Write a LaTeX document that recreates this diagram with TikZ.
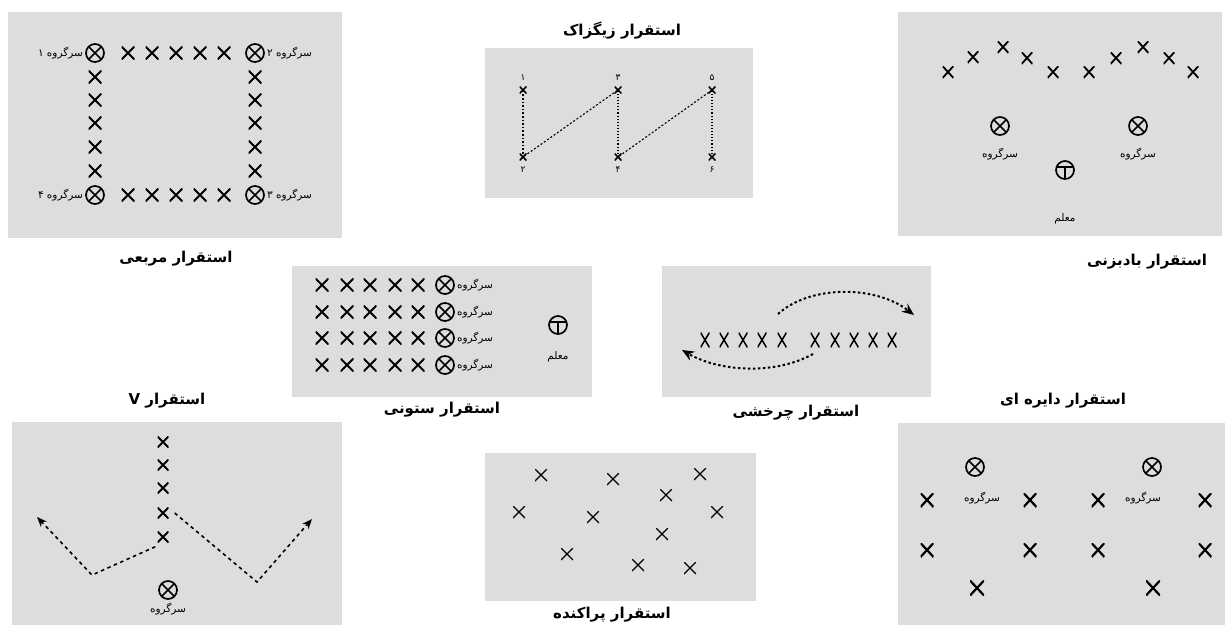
\documentclass[tikz,border=0pt]{standalone}
\usepackage{fontspec}
\setmainfont{DejaVu Sans}
\newfontfamily\farsifont[Script=Arabic]{DejaVu Sans}
\TeXXeTstate=1
\usepackage{tikz}
\usetikzlibrary{arrows.meta,positioning}
\definecolor{panelgray}{RGB}{221,221,221}
\newcommand{\fatext}[1]{\farsifont\beginR #1\endR}

\begin{document}
\begin{tikzpicture}[x=1pt, y=-1pt,
    panel/.style={fill=panelgray, draw=none},
    ttl/.style={font=\farsifont\bfseries\fontsize{15}{17}\selectfont, inner sep=0},
    lbl/.style={font=\farsifont\fontsize{10.5}{12}\selectfont, inner sep=1pt},
    num/.style={font=\farsifont\fontsize{9}{10}\selectfont, inner sep=1pt},
    xm/.style={inner sep=0, minimum width=13, minimum height=13,
      path picture={\draw[line width=1.8pt] (path picture bounding box.south west) -- (path picture bounding box.north east)
        (path picture bounding box.north west) -- (path picture bounding box.south east);}},
    xthin/.style={inner sep=0, minimum width=12, minimum height=12,
      path picture={\draw[line width=1.2pt] (path picture bounding box.south west) -- (path picture bounding box.north east)
        (path picture bounding box.north west) -- (path picture bounding box.south east);}},
    xnarrow/.style={inner sep=0, minimum width=9, minimum height=15,
      path picture={\draw[line width=1.5pt] (path picture bounding box.south west) -- (path picture bounding box.north east)
        (path picture bounding box.north west) -- (path picture bounding box.south east);}},
    xsmall/.style={inner sep=0, minimum width=7, minimum height=7,
      path picture={\draw[line width=1.6pt] (path picture bounding box.south west) -- (path picture bounding box.north east)
        (path picture bounding box.north west) -- (path picture bounding box.south east);}},
    xbold/.style={inner sep=0, minimum width=13, minimum height=14,
      path picture={\draw[line width=2.2pt] (path picture bounding box.south west) -- (path picture bounding box.north east)
        (path picture bounding box.north west) -- (path picture bounding box.south east);}},
    lead/.style={circle, draw, line width=1.7pt, minimum size=18, inner sep=0,
      path picture={\draw[line width=1.7pt] (path picture bounding box.south west) -- (path picture bounding box.north east)
        (path picture bounding box.north west) -- (path picture bounding box.south east);}},
    teach/.style={circle, draw, line width=1.7pt, minimum size=18, inner sep=0,
      path picture={\draw[line width=1.5pt] ([yshift=3pt]path picture bounding box.west) -- ([yshift=3pt]path picture bounding box.east)
        ([yshift=3pt]path picture bounding box.center) -- (path picture bounding box.south);}},
    zdot/.style={dotted, line width=1.1pt, shorten <=-3pt, shorten >=-3pt},
    zdash/.style={dash pattern=on 2pt off 2pt, line width=1.1pt, shorten <=-3pt, shorten >=-3pt},
    turn/.style={dash pattern=on 2.5pt off 2.5pt, line width=2pt, -{Stealth[length=12pt, width=10pt]}},
    varrow/.style={dash pattern=on 3.5pt off 3.5pt, line width=1.6pt, -{Stealth[length=10pt, width=8pt]}}
]
  \fill[white] (0,0) rectangle (1225,625);
  \useasboundingbox (0,0) rectangle (1225,625);

  % square
  \fill[panel] (8,12) rectangle (342,238);
  \node[lead] (sq1) at (95,53) {};
  \node[lead] (sq2) at (255,53) {};
  \node[lead] (sq3) at (255,195) {};
  \node[lead] (sq4) at (95,195) {};
  \foreach \x [count=\i] in {128,152,176,200,224} {
    \node[xm] (sqt\i) at (\x,53) {};
    \node[xm] (sqb\i) at (\x,195) {};
  }
  \foreach \y [count=\i] in {77,100,123,147,171} {
    \node[xm] (sql\i) at (95,\y) {};
    \node[xm] (sqr\i) at (255,\y) {};
  }
  \node[lbl, left=1pt of sq1] (sq1-l) {\fatext{سرگروه ۱}};
  \node[lbl, right=1pt of sq2] (sq2-l) {\fatext{سرگروه ۲}};
  \node[lbl, right=1pt of sq3] (sq3-l) {\fatext{سرگروه ۳}};
  \node[lbl, left=1pt of sq4] (sq4-l) {\fatext{سرگروه ۴}};
  \node[ttl] (t-square) at (176,259) {\fatext{استقرار مربعی}};

  % zigzag
  \fill[panel] (485,48) rectangle (753,198);
  \node[ttl] (t-zigzag) at (622,31) {\fatext{استقرار زیگزاک}};
  \node[xsmall] (z1) at (523,90) {};
  \node[xsmall] (z2) at (523,157) {};
  \node[xsmall] (z3) at (618,90) {};
  \node[xsmall] (z4) at (618,157) {};
  \node[xsmall] (z5) at (712,90) {};
  \node[xsmall] (z6) at (712,157) {};
  \node[num, above=5pt of z1] (z1-n) {۱};
  \node[num, below=5pt of z2] (z2-n) {۲};
  \node[num, above=5pt of z3] (z3-n) {۳};
  \node[num, below=5pt of z4] (z4-n) {۴};
  \node[num, above=5pt of z5] (z5-n) {۵};
  \node[num, below=5pt of z6] (z6-n) {۶};
  \draw[zdot, line width=1.6pt] (z1) -- (z2);
  \draw[zdash] (z2) -- (z3);
  \draw[zdot] (z3) -- (z4);
  \draw[zdash] (z4) -- (z5);
  \draw[zdot] (z5) -- (z6);

  % fan
  \fill[panel] (898,12) rectangle (1222,236);
  \foreach \x/\y [count=\i] in {948/72,973/57,1003/47,1027/58,1053/72,1089/72,1116/58,1143/47,1169/58,1193/72}
    \node[xm, minimum width=11, minimum height=12] (fx\i) at (\x,\y) {};
  \node[lead] (fl1) at (1000,126) {};
  \node[lead] (fl2) at (1138,126) {};
  \node[lbl, below=11pt of fl1] (fl1-l) {\fatext{سرگروه}};
  \node[lbl, below=11pt of fl2] (fl2-l) {\fatext{سرگروه}};
  \node[teach] (ft) at (1065,170) {};
  \node[lbl] (ft-l) at (1065,219) {\fatext{معلم}};
  \node[ttl] (t-fan) at (1147,262) {\fatext{استقرار بادبزنی}};

  % column
  \fill[panel] (292,266) rectangle (592,397);
  \foreach \y [count=\j] in {285,312,338,365} {
    \foreach \x [count=\i] in {322,347,370,395,418}
      \node[xm] (c\j-\i) at (\x,\y) {};
    \node[lead] (cl\j) at (445,\y) {};
    \node[lbl, right=1pt of cl\j] (cl\j-l) {\fatext{سرگروه}};
  }
  \node[teach] (ct) at (558,325) {};
  \node[lbl] (ct-l) at (558,357) {\fatext{معلم}};
  \node[ttl] (t-column) at (442,410) {\fatext{استقرار ستونی}};

  % turning
  \fill[panel] (662,266) rectangle (931,397);
  \foreach \x [count=\i] in {705,724,743,762,782,815,835,854,873,892}
    \node[xnarrow] (r\i) at (\x,340) {};
  \coordinate (ru-a) at (778,314);
  \coordinate (ru-b) at (914,315);
  \coordinate (rd-a) at (813,354);
  \coordinate (rd-b) at (682,350);
  \draw[turn] (ru-a) .. controls (810,285) and (875,285) .. (ru-b);
  \draw[turn] (rd-a) .. controls (775,375) and (720,372) .. (rd-b);
  \node[ttl] (t-turn) at (796,413) {\fatext{استقرار چرخشی}};

  % V
  \fill[panel] (12,422) rectangle (342,625);
  \node[ttl] (t-v) at (167,401) {\fatext{استقرار V}};
  \foreach \y [count=\i] in {442,465,488,513,537}
    \node[xm, minimum width=11, minimum height=11] (v\i) at (163,\y) {};
  \node[lead] (vl) at (168,590) {};
  \node[lbl, below=2pt of vl] (vl-l) {\fatext{سرگروه}};
  \coordinate (vl-bend) at (92,575);
  \coordinate (vl-end) at (37,517);
  \coordinate (vr-bend) at (257,582);
  \coordinate (vr-end) at (312,519);
  \draw[varrow] ([xshift=-2pt, yshift=-4pt]v5.south west) -- (vl-bend) -- (vl-end);
  \draw[varrow] ([xshift=6pt]v4.east) -- (vr-bend) -- (vr-end);

  % scattered
  \fill[panel] (485,453) rectangle (756,601);
  \foreach \x/\y [count=\i] in {541/475,613/479,700/474,666/495,519/512,593/517,717/512,662/534,567/554,638/565,690/568}
    \node[xthin] (s\i) at (\x,\y) {};
  \node[ttl] (t-scatter) at (612,615) {\fatext{استقرار پراکنده}};

  % circle
  \fill[panel] (898,423) rectangle (1225,625);
  \node[ttl] (t-circle) at (1063,401) {\fatext{استقرار دایره ای}};
  \node[lead] (ol1) at (975,467) {};
  \node[lead] (ol2) at (1152,467) {};
  \node[lbl] (ol1-l) at (982,498) {\fatext{سرگروه}};
  \node[lbl] (ol2-l) at (1143,498) {\fatext{سرگروه}};
  \foreach \x [count=\i] in {927,1030,1098,1205} {
    \node[xbold] (oa\i) at (\x,500) {};
    \node[xbold] (ob\i) at (\x,550) {};
  }
  \node[xbold, minimum width=14, minimum height=15] (oc1) at (977,588) {};
  \node[xbold, minimum width=14, minimum height=15] (oc2) at (1153,588) {};
\end{tikzpicture}
\end{document}
